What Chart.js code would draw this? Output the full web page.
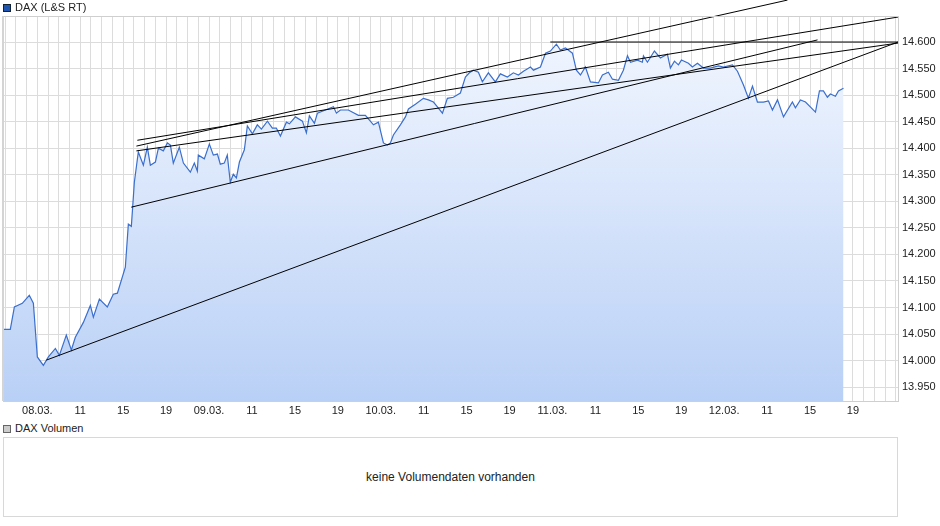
<!DOCTYPE html>
<html><head><meta charset="utf-8">
<script src="https://cdn.jsdelivr.net/npm/chart.js@4"></script>
<style>
body{margin:0;background:#fff;font-family:"Liberation Sans",Arial,sans-serif;}
#wrap{position:relative;width:940px;height:526px;}
#c{position:absolute;left:0;top:0;}
.leg{position:absolute;font-size:11px;color:#222;}
.sq{display:inline-block;width:8px;height:8px;margin-right:4px;vertical-align:-1px;border:1px solid #555;box-sizing:border-box}
#vol{position:absolute;left:3px;top:437px;width:895px;height:80px;border:1px solid #d8d8d8;box-sizing:border-box;display:flex;align-items:center;justify-content:center;font-size:12px;color:#222;}
</style></head>
<body><div id="wrap">
<canvas id="c" width="940" height="420"></canvas>
<div class="leg" style="left:3px;top:1px"><span class="sq" style="background:#1f55b0;border-color:#123"></span>DAX (L&amp;S RT)</div>
<div class="leg" style="left:3px;top:422px"><span class="sq" style="background:#ccc;border-color:#666"></span>DAX Volumen</div>
<div id="vol">keine Volumendaten vorhanden</div>
</div>
<script>
// time in trading hours since 08.03. session start (16 units per day)
const dayLabels = ["08.03.","09.03.","10.03.","11.03.","12.03."];
const hourLabels = ["11","15","19"];
const yTicks = [13950,14000,14050,14100,14150,14200,14250,14300,14350,14400,14450,14500,14550,14600];
const priceTime = [-3.17,-2.52,-2.14,-1.40,-0.75,-0.37,0,0.56,1.03,1.68,2.05,2.70,3.17,3.54,4.29,4.94,5.22,5.78,6.52,7.08,7.46,8.20,8.48,8.76,9.04,9.41,9.88,10.25,10.53,11.00,11.28,11.74,12.12,12.40,12.67,13.23,13.61,14.26,14.63,14.91,15.00,15.56,16.03,16.40,16.78,17.05,17.42,17.70,17.98,18.26,18.55,18.83,19.29,19.57,20.04,20.50,20.88,21.44,21.90,22.27,22.65,23.21,23.49,24.05,24.70,25.07,25.35,25.82,26.10,26.84,27.59,27.87,28.24,28.98,29.92,30.57,31.32,31.78,32.25,32.62,32.90,33.18,33.83,34.30,34.58,35.23,35.97,36.44,36.91,37.28,37.75,38.21,38.77,39.42,39.89,40.26,40.63,41.10,41.47,42.03,42.68,43.15,43.80,44.36,44.83,45.30,45.95,46.23,46.88,47.35,47.81,48.37,48.74,49.21,49.86,50.23,50.61,51.07,51.54,52.28,52.66,53.21,53.59,54.15,54.61,54.99,55.27,55.92,56.38,56.48,56.85,57.50,58.06,58.71,58.99,59.37,59.74,60.02,60.67,61.04,61.51,62.07,62.72,63.47,63.93,64.77,65.24,65.80,66.26,66.64,67.10,67.66,68.13,68.50,68.97,69.53,70.36,70.64,71.11,71.58,72.51,72.88,73.25,73.62,73.90,74.37,74.65,75.12];
const priceValue = [14059,14059,14101,14108,14123,14108,14007,13991,14007,14023,14010,14048,14020,14044,14072,14104,14082,14116,14101,14125,14127,14176,14257,14253,14336,14393,14368,14402,14368,14374,14400,14395,14410,14406,14372,14402,14372,14355,14372,14357,14387,14380,14408,14387,14389,14370,14372,14387,14336,14351,14344,14374,14397,14442,14427,14444,14436,14451,14438,14438,14423,14449,14446,14459,14451,14429,14461,14447,14466,14472,14478,14466,14472,14472,14462,14462,14444,14449,14410,14406,14410,14425,14444,14459,14474,14483,14494,14491,14487,14478,14466,14494,14496,14504,14534,14542,14547,14543,14525,14542,14525,14540,14534,14542,14538,14545,14553,14547,14553,14579,14583,14596,14585,14589,14579,14547,14538,14553,14525,14523,14538,14543,14530,14528,14547,14574,14562,14566,14562,14574,14562,14583,14570,14577,14551,14564,14557,14566,14560,14553,14560,14551,14551,14555,14553,14557,14545,14519,14494,14517,14487,14487,14489,14472,14491,14459,14487,14476,14491,14487,14468,14508,14508,14496,14502,14498,14508,14513];
const trendStartT = [0.84,8.75,9.23,9.23,9.32,47.8];
const trendStartV = [14001,14289,14395,14404,14415,14600];
const trendEndT = [80.2,72.7,80.2,69.9,80.2,80.2];
const trendEndV = [14600,14604,14598,14679,14647,14600];

const fmt = v => { const s=String(Math.round(v)); return s.slice(0,s.length-3)+"."+s.slice(-3); };
const datasets = [{
  data: priceTime.map((t,i)=>({x:t,y:priceValue[i]})),
  borderColor:'#3a6fce', borderWidth:1.2, pointRadius:0, tension:0, fill:'start',
  backgroundColor: ctx => {
    const a = ctx.chart.chartArea; if(!a) return '#dde8fb';
    const g = ctx.chart.ctx.createLinearGradient(0,a.top,0,a.bottom);
    g.addColorStop(0,'#f4f8ff'); g.addColorStop(1,'#b9d0f6'); return g;
  }, order:2
}];
trendStartT.forEach((t,i)=>datasets.push({
  data:[{x:t,y:trendStartV[i]},{x:trendEndT[i],y:trendEndV[i]}],
  borderColor:'#000', borderWidth:1, pointRadius:0, fill:false, clip:false, order:1
}));
const frame = {id:'frame', afterDraw(c){const a=c.chartArea,x=c.ctx;x.save();x.strokeStyle='#cfcfcf';x.lineWidth=1;x.strokeRect(a.left+0.5,a.top+0.5,a.width,a.height);x.fillStyle='#d4d4d4';x.fillRect(a.left-1,a.top,2,a.height);x.restore();}};
new Chart(document.getElementById('c'),{
  type:'line', data:{datasets},
  options:{responsive:false, animation:false, events:[],
    layout:{padding:{left:3,top:16,right:0,bottom:0}},
    plugins:{legend:{display:false},tooltip:{enabled:false}},
    scales:{
      x:{type:'linear',min:-3.2,max:80.2,
        afterBuildTicks(s){const t=[];for(let u=-3;u<=80;u++)t.push({value:u});s.ticks=t;},
        afterFit(s){s.height=19;},
        grid:{color:'#dcdcdc',drawTicks:false},border:{display:false},
        ticks:{autoSkip:false,maxRotation:0,padding:3,color:'#222',font:{family:'Liberation Sans',size:11},
          callback(v){const d=Math.floor(v/16),o=v-16*d;if(o===0)return dayLabels[d]||'';if(o===4)return hourLabels[0];if(o===8)return hourLabels[1];if(o===12)return hourLabels[2];return '';}}},
      y:{position:'right',min:13924,max:14649,
        afterBuildTicks(s){s.ticks=yTicks.map(v=>({value:v}));},
        afterFit(s){s.width=42;},
        grid:{color:'#dcdcdc',drawTicks:false},border:{display:false},
        ticks:{padding:4,color:'#222',font:{family:'Liberation Sans',size:11},callback:v=>fmt(v)}}
    }},
  plugins:[frame]
});
</script></body></html>
